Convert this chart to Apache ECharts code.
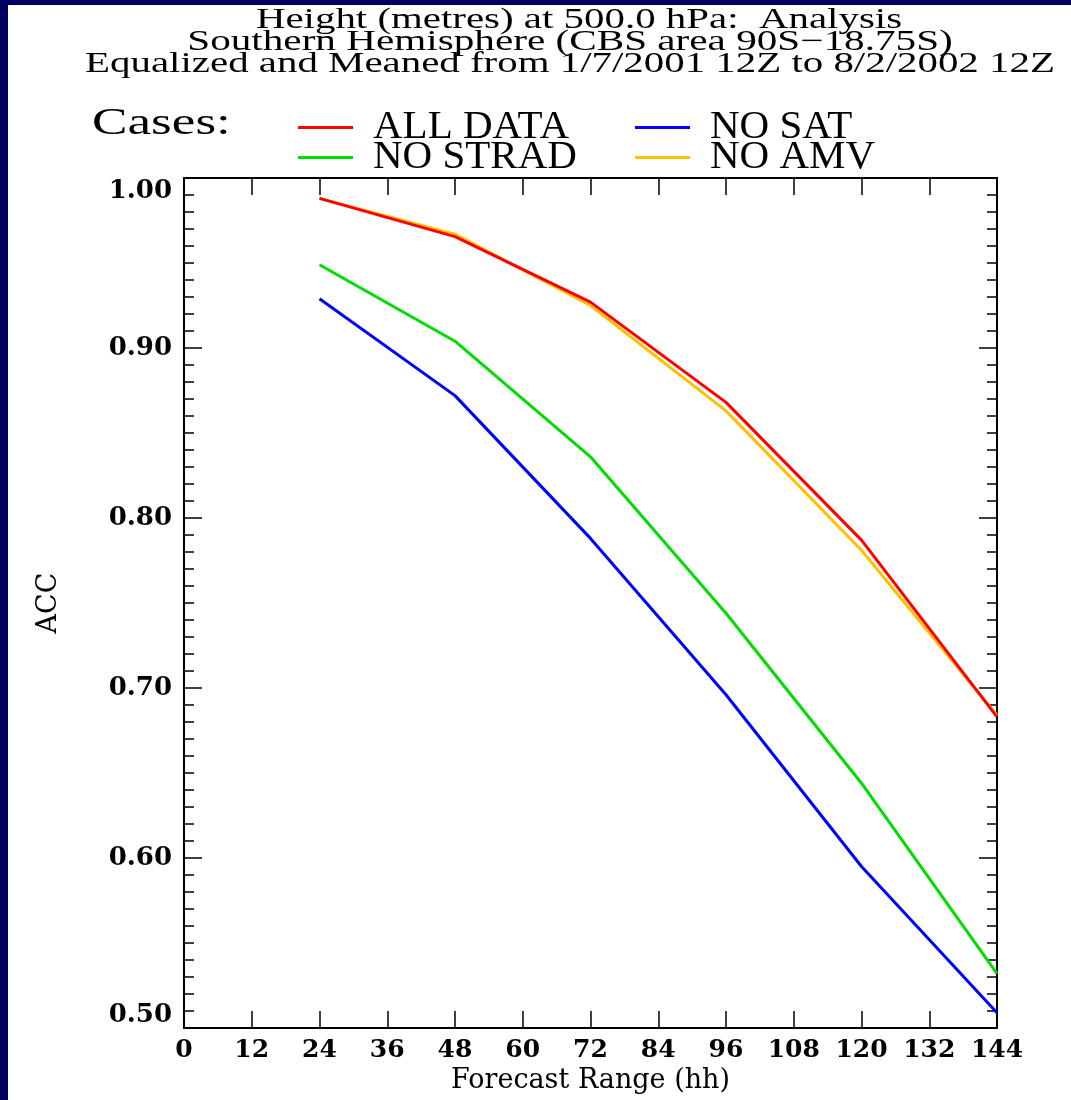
<!DOCTYPE html>
<html>
<head>
<meta charset="utf-8">
<script src="https://cdn.jsdelivr.net/npm/echarts@6/dist/echarts.min.js"></script>
<style>
  html, body { margin:0; padding:0; background:#000060; width:1071px; height:1100px; overflow:hidden; }
  #chart { position:absolute; left:8px; top:5px; width:1063px; height:1095px; background:#ffffff; }
</style>
</head>
<body>
<div id="chart"></div>
<script>
// ---- data ----
const forecastHours = [24, 48, 72, 96, 120, 144];
const allData  = [0.988, 0.9655, 0.927, 0.868, 0.787, 0.683];
const noSat    = [0.929, 0.872, 0.788, 0.696, 0.595, 0.509];
const noStrad  = [0.949, 0.904, 0.836, 0.744, 0.644, 0.532];
const noAmv    = [0.988, 0.967, 0.925, 0.863, 0.781, 0.684];
const seriesNames = ['ALL DATA', 'NO SAT', 'NO STRAD', 'NO AMV'];
const titleLines = [
  'Height (metres) at 500.0 hPa:  Analysis',
  'Southern Hemisphere (CBS area 90S\u221218.75S)',
  'Equalized and Meaned from 1/7/2001 12Z to 8/2/2002 12Z'
];

const pairs = v => forecastHours.map((h, i) => [h, v[i]]);
const chart = echarts.init(document.getElementById('chart'));
const serif = '"Liberation Serif", "Times New Roman", serif';
const wideSerif = '"DejaVu Serif", serif';

const mkTick = (len) => ({ show: true, inside: true, length: len, lineStyle: { color: '#000', width: 1.5 } });
const axLine = { show: true, onZero: false, lineStyle: { color: '#000', width: 2 } };

const mkLegend = (name, left, top) => ({
  orient: 'vertical', left: left, top: top, itemGap: 0, itemWidth: 55, itemHeight: 3, icon: 'rect',
  data: [name], selectedMode: false,
  textStyle: { fontFamily: serif, fontSize: 41, lineHeight: 40, color: '#000', padding: [0, 0, 0, 15] }
});

const option = {
  backgroundColor: '#ffffff',
  animation: false,
  grid: { left: 176, right: 74, top: 173, bottom: 72 },
  graphic: [
    { type: 'text', x: 571, y: 15, scaleX: 1.41, style: { text: titleLines[0], textAlign: 'center', textVerticalAlign: 'middle', font: '29px ' + serif, fill: '#000' } },
    { type: 'text', x: 562, y: 37, scaleX: 1.42, style: { text: titleLines[1], textAlign: 'center', textVerticalAlign: 'middle', font: '29px ' + serif, fill: '#000' } },
    { type: 'text', x: 562, y: 59, scaleX: 1.41, style: { text: titleLines[2], textAlign: 'center', textVerticalAlign: 'middle', font: '29px ' + serif, fill: '#000' } },
    { type: 'text', x: 84, y: 119, scaleX: 1.4, style: { text: 'Cases:', textAlign: 'left', textVerticalAlign: 'middle', font: '38px ' + serif, fill: '#000' } }
  ],
  legend: [
    mkLegend('ALL DATA', 285, 97),
    mkLegend('NO STRAD', 285, 127),
    mkLegend('NO SAT', 622, 97),
    mkLegend('NO AMV', 622, 127)
  ],
  xAxis: [
    { type: 'value', position: 'bottom', min: 0, max: 144, interval: 12,
      name: 'Forecast Range (hh)', nameLocation: 'middle', nameGap: 38,
      nameTextStyle: { fontFamily: wideSerif, fontSize: 27, color: '#000' },
      axisLine: axLine,
      axisTick: mkTick(17),
      axisLabel: { margin: 10, fontFamily: wideSerif, fontWeight: 'bold', fontSize: 25, color: '#000' },
      splitLine: { show: false } },
    { type: 'value', position: 'top', min: 0, max: 144, interval: 12,
      axisLine: axLine,
      axisTick: mkTick(17), axisLabel: { show: false }, splitLine: { show: false } }
  ],
  yAxis: [
    { type: 'value', position: 'left', min: 0.5, max: 1.0, interval: 0.1,
      name: 'ACC', nameLocation: 'middle', nameGap: 122, nameRotate: 90,
      nameTextStyle: { fontFamily: wideSerif, fontSize: 27, color: '#000' },
      axisLine: axLine,
      axisTick: mkTick(18),
      minorTick: { show: true, splitNumber: 10, length: 10, lineStyle: { color: '#000', width: 1.5 } },
      axisLabel: { margin: 12, fontFamily: wideSerif, fontWeight: 'bold', fontSize: 26, color: '#000',
        formatter: v => v.toFixed(2), verticalAlignMaxLabel: 'top', verticalAlignMinLabel: 'bottom' },
      splitLine: { show: false } },
    { type: 'value', position: 'right', min: 0.5, max: 1.0, interval: 0.1,
      axisLine: axLine,
      axisTick: mkTick(18),
      minorTick: { show: true, splitNumber: 10, length: 10, lineStyle: { color: '#000', width: 1.5 } },
      axisLabel: { show: false }, splitLine: { show: false } }
  ],
  series: [
    { name: seriesNames[0], type: 'line', data: pairs(allData), color: '#ff0000', symbol: 'none', z: 5, lineStyle: { width: 3 } },
    { name: seriesNames[1], type: 'line', data: pairs(noSat), color: '#0000ff', symbol: 'none', z: 3, lineStyle: { width: 3 } },
    { name: seriesNames[2], type: 'line', data: pairs(noStrad), color: '#00dd00', symbol: 'none', z: 3, lineStyle: { width: 3 } },
    { name: seriesNames[3], type: 'line', data: pairs(noAmv), color: '#ffc000', symbol: 'none', z: 2, lineStyle: { width: 3 } }
  ]
};
chart.setOption(option);
</script>
</body>
</html>
